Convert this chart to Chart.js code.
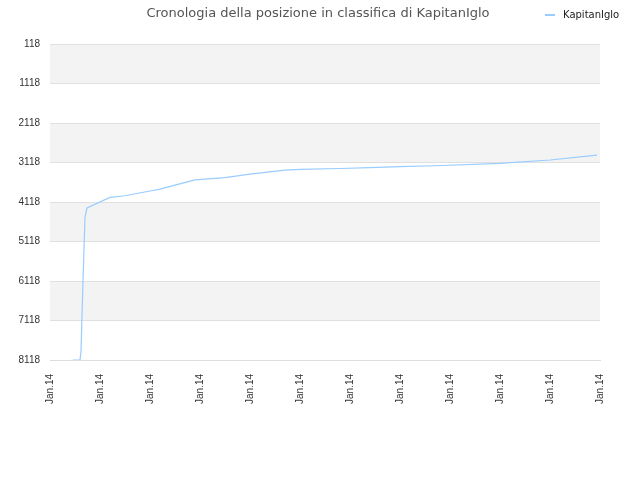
<!DOCTYPE html>
<html><head><meta charset="utf-8">
<script src="https://cdn.jsdelivr.net/npm/chart.js@4"></script>
<style>
body{margin:0;width:640px;height:480px;position:relative;font-family:"DejaVu Sans",sans-serif;background:#fff}
#t{position:absolute;top:5px;left:0;width:636px;text-align:center;font-size:13px;color:#555}
#lg{position:absolute;top:9px;left:545px;font-size:10px;color:#222}
#lg span{display:inline-block;width:10px;border-top:2px solid #99ccff;vertical-align:middle;margin-right:8px}
</style></head><body>
<div id="t">Cronologia della posizione in classifica di KapitanIglo</div>
<div id="lg"><span></span>KapitanIglo</div>
<canvas id="c" width="640" height="480"></canvas>
<script>
const seriesName = "KapitanIglo";
const xTickLabels = ["Jan.14","Jan.14","Jan.14","Jan.14","Jan.14","Jan.14","Jan.14","Jan.14","Jan.14","Jan.14","Jan.14","Jan.14"];
const xs = [0.46,0.6,0.62,0.66,0.7,0.74,1.2,1.5,2.0,2.2,2.5,2.9,3.5,4.0,4.7,5.0,5.8,6.4,7.0,7.7,9.0,10.0,10.94];
const ranks = [8118,8118,7900,6100,4500,4270,4000,3960,3840,3790,3690,3560,3500,3410,3310,3290,3270,3250,3220,3200,3140,3055,2930];
const bands={id:'bands',beforeDraw(ch){const {ctx,chartArea:a,scales:{y}}=ch;ctx.save();ctx.fillStyle='#f3f3f3';
for(let v=118;v<8118;v+=2000){const y1=y.getPixelForValue(v),y2=y.getPixelForValue(v+1000);ctx.fillRect(a.left,y1,a.right-a.left,y2-y1);}ctx.restore();}};
new Chart(document.getElementById('c'),{type:'line',
data:{datasets:[{label:seriesName,data:xs.map((x,i)=>({x,y:ranks[i]})),borderColor:'#99ccff',borderWidth:1.2,pointRadius:0,tension:0}]},
options:{animation:false,responsive:false,layout:{padding:{top:44,right:40,left:0,bottom:0}},
plugins:{legend:{display:false},title:{display:false},tooltip:{enabled:false}},
scales:{x:{type:'linear',min:0,max:11,afterFit:s=>{s.height=120},grid:{display:false},border:{color:'#ddd'},
ticks:{stepSize:1,maxRotation:90,minRotation:90,padding:6,color:'#333',font:{size:10},callback:(v,i)=>xTickLabels[i]}},
y:{reverse:true,min:118,max:8118,afterFit:s=>{s.width=50},grid:{color:'#e0e0e0',drawTicks:false},border:{display:false},
ticks:{stepSize:1000,padding:10,color:'#333',font:{size:10},callback:v=>String(v)}}}},plugins:[bands]});
</script></body></html>
